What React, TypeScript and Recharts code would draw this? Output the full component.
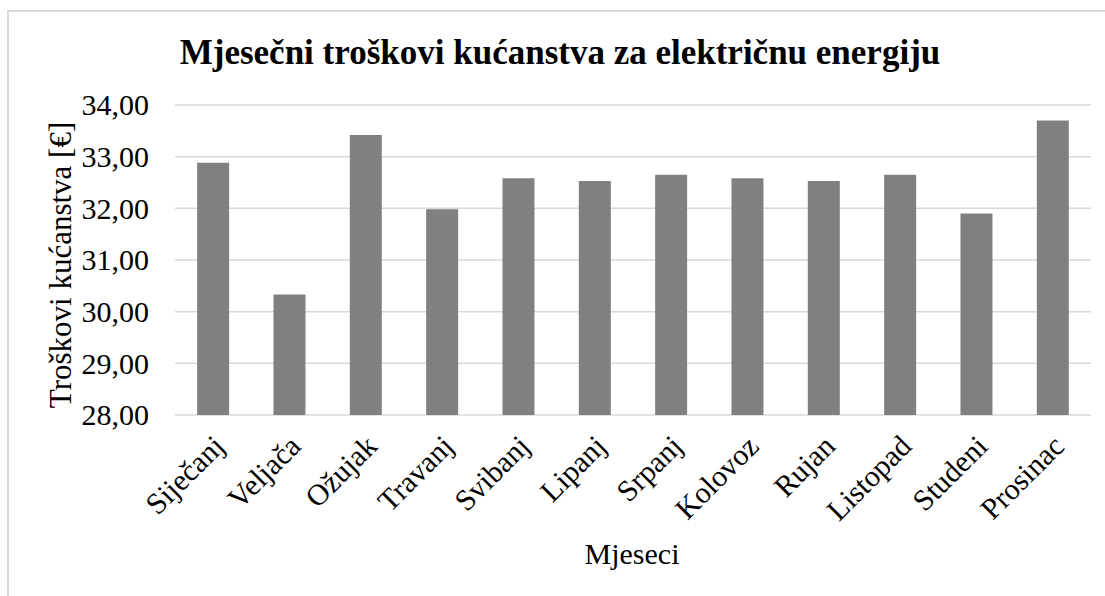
import React from 'react';
import { BarChart, Bar, XAxis, YAxis, CartesianGrid } from 'recharts';

const months = ['Siječanj', 'Veljača', 'Ožujak', 'Travanj', 'Svibanj', 'Lipanj', 'Srpanj', 'Kolovoz', 'Rujan', 'Listopad', 'Studeni', 'Prosinac'];
const costs = [32.88, 30.33, 33.42, 31.98, 32.58, 32.53, 32.65, 32.58, 32.53, 32.65, 31.90, 33.70];
const yTicks = [28, 29, 30, 31, 32, 33, 34];

const title = 'Mjesečni troškovi kućanstva za električnu energiju';
const yLabel = 'Troškovi kućanstva [€]';
const xLabel = 'Mjeseci';

const data = months.map((m, i) => ({ month: m, cost: costs[i] }));

const FONT = '"Liberation Serif", "Times New Roman", serif';
const FS = 30;

const XTick = (props: any) => {
  const { x, y, payload } = props;
  return (
    <g transform={`translate(${x + 13},${y + 33})`}>
      <text x={0} y={0} textAnchor="end" transform="rotate(-45)" fontFamily={FONT} fontSize={FS} fill="#000">
        {payload.value}
      </text>
    </g>
  );
};

const YTick = (props: any) => {
  const { x, y, payload } = props;
  return (
    <text x={x} y={y} dy={FS * 0.34} textAnchor="end" fontFamily={FONT} fontSize={FS} fill="#000">
      {payload.value.toFixed(2).replace('.', ',')}
    </text>
  );
};

export default function App() {
  return (
    <div style={{ position: 'fixed', left: 0, top: 0, width: 1105, height: 596, overflow: 'hidden', background: '#fff' }}>
      <div style={{ position: 'absolute', left: 7, top: 10, width: 1200, height: 800, border: '2px solid #d9d9d9', boxSizing: 'border-box' }} />
      <div style={{ position: 'absolute', left: 0, top: 0 }}>
        <BarChart width={1105} height={596} data={data} margin={{ top: 105, right: 14, bottom: 0, left: 0 }} barCategoryGap="29%">
          <CartesianGrid horizontal vertical={false} stroke="#d9d9d9" strokeWidth={1.5} />
          <YAxis
            type="number"
            domain={[28, 34]}
            ticks={yTicks}
            width={175}
            axisLine={false}
            tickLine={false}
            tickSize={0}
            tickMargin={26}
            tick={<YTick />}
            interval={0}
          />
          <XAxis
            dataKey="month"
            height={181}
            axisLine={false}
            tickLine={false}
            tickSize={0}
            tickMargin={0}
            interval={0}
            tick={<XTick />}
          />
          <Bar dataKey="cost" fill="#808080" isAnimationActive={false} />
        </BarChart>
      </div>
      <svg width={1105} height={596} style={{ position: 'absolute', left: 0, top: 0, pointerEvents: 'none' }}>
        <text x={560} y={64} textAnchor="middle" fontFamily={FONT} fontSize={35} fontWeight="bold" fill="#000">{title}</text>
        <text x={71} y={265} textAnchor="middle" transform="rotate(-90 71 265)" fontFamily={FONT} fontSize={31} fill="#000">{yLabel}</text>
        <text x={632} y={564} textAnchor="middle" fontFamily={FONT} fontSize={FS} fill="#000">{xLabel}</text>
      </svg>
    </div>
  );
}
